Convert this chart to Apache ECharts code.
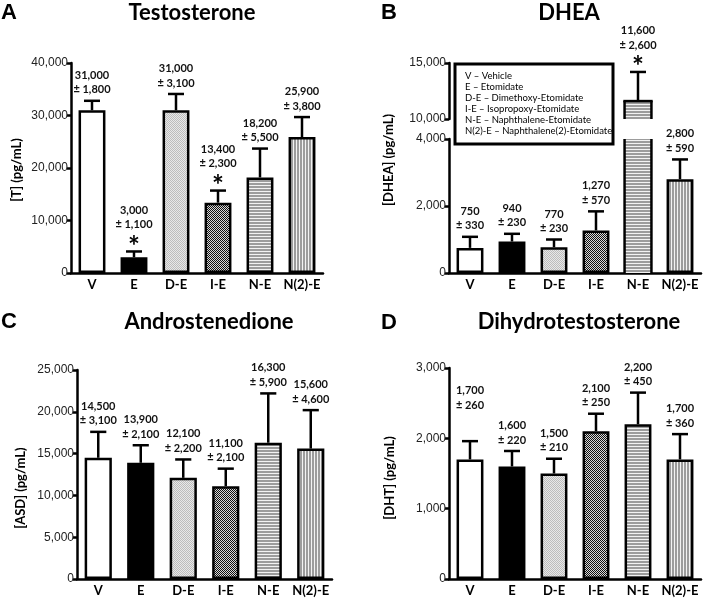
<!DOCTYPE html>
<html><head><meta charset="utf-8">
<script src="https://cdn.jsdelivr.net/npm/echarts@6/dist/echarts.min.js"></script>
<style>html,body{margin:0;padding:0;background:#fff}#c{width:709px;height:598px}</style>
</head><body><div id="c"></div>
<script>
// ---- data ----
const categories = ['V', 'E', 'D-E', 'I-E', 'N-E', 'N(2)-E'];
const tMean = [31000, 3000, 31000, 13400, 18200, 25900];
const tErr = [1800, 1100, 3100, 2300, 5500, 3800];
const tSig = [0, 1, 0, 1, 0, 0];
const dheaMean = [750, 940, 770, 1270, 11600, 2800];
const dheaErr = [330, 230, 230, 570, 2600, 590];
const dheaSig = [0, 0, 0, 0, 1, 0];
const asdMean = [14500, 13900, 12100, 11100, 16300, 15600];
const asdErr = [3100, 2100, 2200, 2100, 5900, 4600];
const asdSig = [0, 0, 0, 0, 0, 0];
const dhtMean = [1700, 1600, 1500, 2100, 2200, 1700];
const dhtErr = [260, 220, 210, 250, 450, 360];
const dhtSig = [0, 0, 0, 0, 0, 0];
const legendLines = ['V – Vehicle', 'E – Etomidate', 'D-E – Dimethoxy-Etomidate', 'I-E – Isopropoxy-Etomidate', 'N-E – Naphthalene-Etomidate', 'N(2)-E – Naphthalene(2)-Etomidate'];
const titles = ['Testosterone', 'DHEA', 'Androstenedione', 'Dihydrotestosterone'];
const panelLetters = ['A', 'B', 'C', 'D'];
const yNames = ['[T] (pg/mL)', '[DHEA] (pg/mL)', '[ASD] (pg/mL)', '[DHT] (pg/mL)'];

// ---- layout / style (not data) ----
const noLift = [0, 0, 0, 0, 0, 0];
const liftD = [25, 0, 0, 0, 0, 0];
const BAR_FRAC = 0.64;

function fmt(v) { return v.toLocaleString('en-US'); }
function pat(w, h, draw) {
  const c = document.createElement('canvas'); c.width = w; c.height = h;
  const g = c.getContext('2d'); draw(g);
  return { image: c, repeat: 'repeat' };
}
const fills = [
  '#ffffff',
  '#000000',
  pat(2, 2, g => { g.fillStyle = '#e8e8e8'; g.fillRect(0, 0, 2, 2); g.fillStyle = '#bcbcbc'; g.fillRect(0, 0, 1, 1); g.fillRect(1, 1, 1, 1); }),
  pat(2, 2, g => { g.fillStyle = '#d8d8d8'; g.fillRect(0, 0, 2, 2); g.fillStyle = '#111111'; g.fillRect(0, 0, 1, 1); g.fillRect(1, 1, 1, 1); }),
  pat(1, 3, g => { g.fillStyle = '#9c9c9c'; g.fillRect(0, 0, 1, 2); g.fillStyle = '#f2f2f2'; g.fillRect(0, 2, 1, 1); }),
  pat(3, 1, g => { g.fillStyle = '#9c9c9c'; g.fillRect(0, 0, 2, 1); g.fillStyle = '#f2f2f2'; g.fillRect(2, 0, 1, 1); })
];

const grids = [
  { left: 71, top: 63, width: 252, height: 210 },
  { left: 449, top: 139, width: 252, height: 134 },
  { left: 449, top: 63, width: 252, height: 56 },
  { left: 77, top: 370, width: 255, height: 209 },
  { left: 449, top: 368, width: 252, height: 211 }
];
const yRanges = [
  [0, 40000, 10000], [0, 4000, 2000], [10000, 15000, 5000], [0, 25000, 5000], [0, 3000, 1000]
];

const xAxes = grids.map((g, i) => ({
  type: 'category', gridIndex: i, data: categories, show: i !== 2,
  axisLine: { lineStyle: { color: '#000', width: 2.5 } },
  axisTick: { show: false },
  axisLabel: { interval: 0, color: '#000', fontFamily: 'Lato', fontWeight: 'bold', fontSize: 13, margin: 5 }
}));
const yAxes = yRanges.map((r, i) => ({
  type: 'value', gridIndex: i, min: r[0], max: r[1], interval: r[2],
  axisLine: { show: true, lineStyle: { color: '#000', width: 2.5 } },
  axisTick: { show: true, length: 4, lineStyle: { color: '#000', width: 2.5 } },
  splitLine: { show: false },
  axisLabel: { color: '#222', fontFamily: 'Liberation Sans', fontSize: 12, margin: 3, formatter: v => fmt(v) }
}));

function barSeries(idx, mean) {
  const lo = yRanges[idx][0], hi = yRanges[idx][1];
  return {
    type: 'bar', xAxisIndex: idx, yAxisIndex: idx, barWidth: (BAR_FRAC * 100) + '%', clip: true,
    data: mean.map((m, i) => {
      const cut = m > hi || lo > 0;
      return { value: m, itemStyle: { color: fills[i], borderWidth: cut ? 0 : 2.5 } };
    }),
    itemStyle: { borderColor: '#000', borderWidth: 2.5 }, z: 2
  };
}
const labelFont = 'bold 11px Lato';
function errSeries(idx, mean, err, sig, lift) {
  const lo = yRanges[idx][0], hi = yRanges[idx][1];
  return {
    type: 'custom', xAxisIndex: idx, yAxisIndex: idx, z: 10, clip: false,
    data: mean.map((m, i) => [i, m, err[i], sig[i], lift[i]]),
    encode: { x: 0, y: 1 },
    renderItem: function (params, api) {
      const i = api.value(0), m = api.value(1), e = api.value(2), s = api.value(3), l = api.value(4);
      const ch = [];
      const band = api.size([1, 0])[0];
      const bh = band * BAR_FRAC / 2;
      const cut = m > hi || lo > 0;
      if (cut && m >= lo) {
        // edges of a bar that runs through the axis break
        const a = api.coord([i, Math.max(0, lo)]), b = api.coord([i, Math.min(m, hi)]);
        const st = { stroke: '#000', lineWidth: 2.5 };
        ch.push({ type: 'line', shape: { x1: a[0] - bh, y1: a[1], x2: a[0] - bh, y2: b[1] }, style: st });
        ch.push({ type: 'line', shape: { x1: a[0] + bh, y1: a[1], x2: a[0] + bh, y2: b[1] }, style: st });
        if (m <= hi) ch.push({ type: 'line', shape: { x1: a[0] - bh - 1.25, y1: b[1], x2: a[0] + bh + 1.25, y2: b[1] }, style: st });
      }
      if (m >= lo && m + e <= hi) {
        const p0 = api.coord([i, m]), p1 = api.coord([i, m + e]);
        const half = band * 0.19;
        const x = p0[0], yTop = p1[1];
        const y2 = yTop - 11 - (s ? 16 : 0) - l;
        ch.push(
          { type: 'line', shape: { x1: x, y1: p0[1], x2: x, y2: yTop }, style: { stroke: '#000', lineWidth: 2.5 } },
          { type: 'line', shape: { x1: x - half, y1: yTop, x2: x + half, y2: yTop }, style: { stroke: '#000', lineWidth: 2.5 } },
          { type: 'text', x: x, y: y2, style: { text: '± ' + fmt(e), font: labelFont, fill: '#111', align: 'center', verticalAlign: 'middle' } },
          { type: 'text', x: x, y: y2 - 14.5, style: { text: fmt(m), font: labelFont, fill: '#111', align: 'center', verticalAlign: 'middle' } }
        );
        if (s) ch.push({ type: 'text', x: x, y: yTop - 5, style: { text: '*', font: 'bold 28px Lato', fill: '#000', align: 'center', verticalAlign: 'middle' } });
      }
      return ch.length ? { type: 'group', children: ch } : null;
    }
  };
}

const series = [
  barSeries(0, tMean), errSeries(0, tMean, tErr, tSig, noLift),
  barSeries(1, dheaMean), errSeries(1, dheaMean, dheaErr, dheaSig, noLift),
  barSeries(2, dheaMean), errSeries(2, dheaMean, dheaErr, dheaSig, noLift),
  barSeries(3, asdMean), errSeries(3, asdMean, asdErr, asdSig, noLift),
  barSeries(4, dhtMean), errSeries(4, dhtMean, dhtErr, dhtSig, liftD)
];

const letterPos = [[1, 13], [381, 13], [1, 322], [381, 323]];
const titlePos = [[192, 13], [569, 13], [209, 322], [579, 322]];
const yNamePos = [[17, 170], [389, 160], [21, 488], [390, 478]];
const graphic = [];
for (let k = 0; k < 4; k++) {
  graphic.push({ type: 'text', x: letterPos[k][0], y: letterPos[k][1], style: { text: panelLetters[k], font: 'bold 22px "Liberation Sans"', fill: '#000', verticalAlign: 'middle' } });
  graphic.push({ type: 'text', x: titlePos[k][0], y: titlePos[k][1], style: { text: titles[k], font: 'bold 22px Lato', fill: '#000', align: 'center', verticalAlign: 'middle' } });
  graphic.push({ type: 'text', x: yNamePos[k][0], y: yNamePos[k][1], rotation: Math.PI / 2, style: { text: yNames[k], font: 'bold 13px Lato', fill: '#000', align: 'center', verticalAlign: 'middle' } });
}
graphic.push({
  type: 'group', x: 455, y: 64, z: 100,
  children: [{ type: 'rect', shape: { x: 0, y: 0, width: 158, height: 80 }, style: { fill: '#fff', stroke: '#000', lineWidth: 3 } }]
    .concat(legendLines.map((t, i) => ({ type: 'text', x: 10, y: 12 + i * 11, style: { text: t, font: '9.5px Lato', fill: '#000', verticalAlign: 'middle' } })))
});

const chart = echarts.init(document.getElementById('c'), null, { renderer: 'canvas' });
chart.setOption({
  animation: false, backgroundColor: '#fff',
  grid: grids, xAxis: xAxes, yAxis: yAxes, series: series, graphic: graphic
});
</script></body></html>
